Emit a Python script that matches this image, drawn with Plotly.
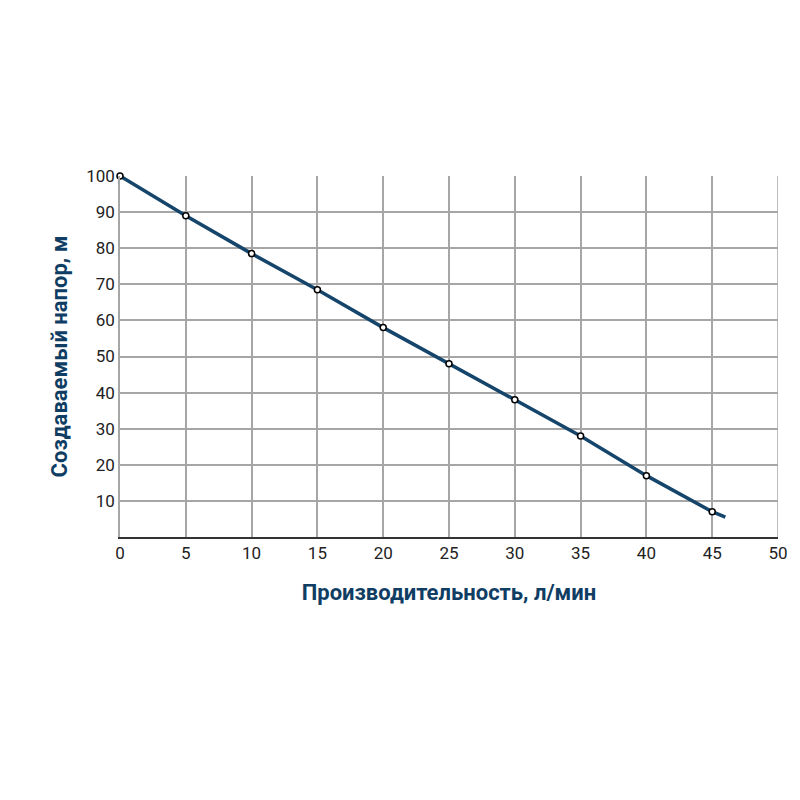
import plotly.graph_objects as go

flow = [0, 5, 10, 15, 20, 25, 30, 35, 40, 45]
head = [100, 89, 78.5, 68.5, 58, 48, 38, 28, 17, 7]
line_flow = flow + [46]
line_head = head + [5.5]
x_ticks = [0, 5, 10, 15, 20, 25, 30, 35, 40, 45, 50]
y_ticks = [10, 20, 30, 40, 50, 60, 70, 80, 90, 100]

navy = "#15456b"
title_col = "#0f3d63"

fig = go.Figure()
fig.add_trace(go.Scatter(x=line_flow, y=line_head, mode="lines", cliponaxis=False,
                         line=dict(color=navy, width=3.5), hoverinfo="skip"))
fig.add_trace(go.Scatter(x=flow, y=head, mode="markers", cliponaxis=False,
                         marker=dict(color="white", size=6, line=dict(color="black", width=1.5))))

fig.update_layout(
    width=792, height=792, showlegend=False,
    paper_bgcolor="white", plot_bgcolor="white",
    margin=dict(l=112, r=22, t=168, b=263),
    font=dict(family="Roboto", size=17, color="#222"),
    xaxis=dict(range=[0, 50], tickvals=x_ticks, showgrid=True, gridcolor="#a6a6a6", gridwidth=1.5,
               zeroline=False, showline=True, linecolor="#333", linewidth=1.5, mirror=False,
               ticks="", title=dict(text="<b>Производительность, л/мин</b>", font=dict(size=22, color=title_col), standoff=22)),
    yaxis=dict(range=[0, 100], tickvals=y_ticks, showgrid=True, gridcolor="#a6a6a6", gridwidth=1.5,
               zeroline=False, showline=True, linecolor="#a6a6a6", linewidth=1.5,
               ticks="", title=dict(text="<b>Создаваемый напор, м</b>", font=dict(size=22, color=title_col), standoff=12)),
)
fig.add_shape(type="line", xref="x", yref="paper", x0=50, x1=50, y0=0, y1=1,
              line=dict(color="#a6a6a6", width=1.5))
fig.write_html("out.html")
